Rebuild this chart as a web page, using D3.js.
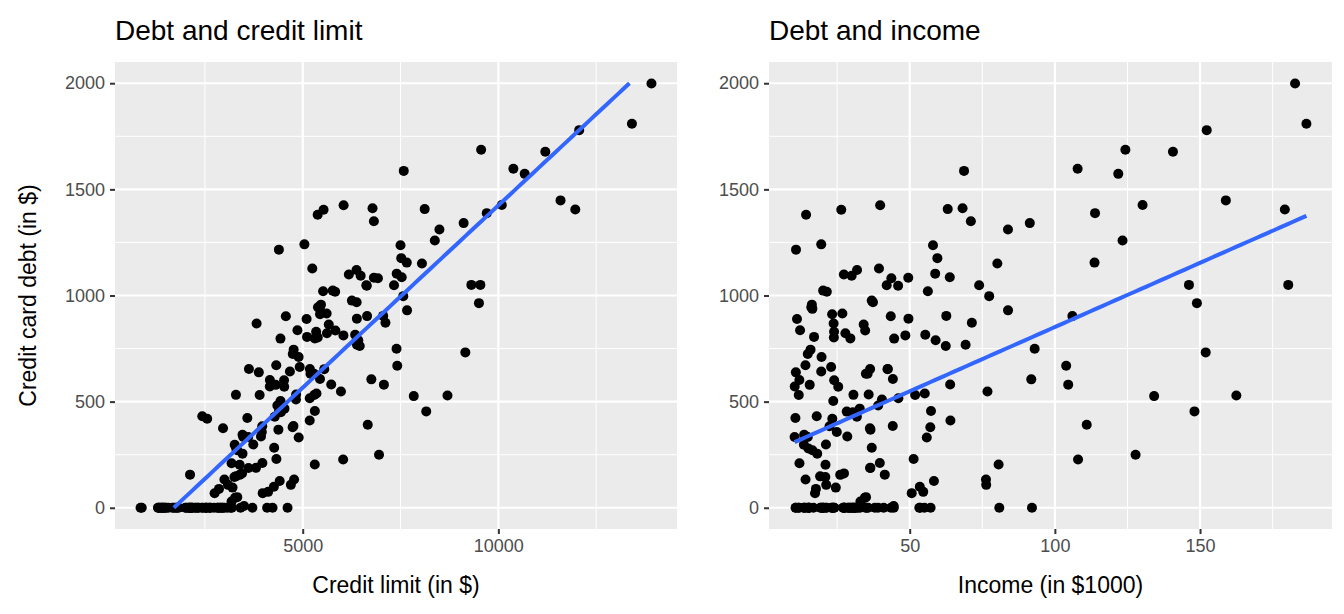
<!DOCTYPE html>
<html><head><meta charset="utf-8">
<script src="https://cdn.jsdelivr.net/npm/d3@7"></script>
<style>body{margin:0;background:#fff}text{font-family:"Liberation Sans",Arial,sans-serif}</style>
</head><body><svg id="c" width="1344" height="614"></svg>
<script>
const income=[14.891,106.025,104.593,148.924,55.882,80.18,20.996,71.408,15.125,71.061,63.095,15.045,80.616,43.682,19.144,20.089,53.598,36.496,49.57,42.079,17.7,37.348,20.103,64.027,10.742,14.09,42.471,32.793,186.634,26.813,34.142,28.941,134.181,31.367,20.15,23.35,62.413,30.007,11.795,13.647,34.95,113.659,44.158,36.929,31.861,77.38,19.531,44.646,44.522,43.479,36.362,39.705,44.205,16.304,15.333,32.916,57.1,76.273,10.354,51.872,35.51,21.238,30.682,14.132,32.164,12,113.829,11.187,27.847,49.502,24.889,58.781,22.939,23.989,16.103,33.017,30.622,20.936,110.968,15.354,27.369,53.48,23.672,19.225,43.54,152.298,55.367,11.741,15.56,59.53,20.191,48.498,30.733,16.479,38.009,14.084,14.312,26.067,36.295,83.851,21.153,17.976,68.713,146.183,15.846,12.031,16.819,39.11,107.986,13.561,34.537,28.575,46.007,69.251,16.482,40.442,35.177,91.362,27.039,23.012,27.241,148.08,62.602,11.808,29.564,27.578,26.427,57.202,123.299,18.145,23.793,10.726,23.283,21.455,34.664,44.473,54.663,36.355,21.374,107.841,39.831,91.876,103.893,19.636,17.392,19.529,17.055,23.857,15.184,13.444,63.931,35.864,41.419,92.112,55.056,19.537,31.811,56.256,42.357,53.319,12.238,31.353,63.809,13.676,76.782,25.383,35.691,29.403,27.47,27.33,34.772,36.934,76.348,14.887,121.834,30.132,24.05,22.379,28.316,58.026,10.635,46.102,58.929,80.861,158.889,30.42,36.472,23.365,83.869,58.351,55.187,124.29,28.508,130.209,30.406,23.883,93.039,50.699,27.349,10.403,23.949,73.914,21.038,68.206,57.337,10.793,23.45,10.842,51.345,151.947,24.543,29.567,39.145,39.422,34.909,41.025,182.728,180.379,179.2,140.672,162.5,127.8];
const limit=[3606,6645,7075,9504,4897,8047,3388,7114,3300,6819,8117,1311,5308,6922,3291,2525,3714,4378,6384,6626,2860,6378,2631,5179,1757,4323,3625,4534,13414,5611,5666,2733,7838,1829,2646,2558,6457,6481,3899,3461,3327,7659,4763,6257,6375,7569,5043,4431,2252,4569,5183,3969,5441,5466,1499,1786,4742,4779,3480,5294,5198,3089,1671,2998,2937,4160,9704,5099,5619,6819,3954,7402,4923,4523,5390,3180,3293,3254,6662,2101,3449,4263,4433,1433,2906,12066,6340,2271,4307,7518,5767,6040,2832,5435,3075,855,5382,3388,2963,8494,3736,2433,7582,9540,4768,3182,1337,3189,6033,3261,3271,2959,6637,6386,3326,4828,2117,9113,2161,1410,1402,8157,7056,1300,2529,2531,5533,3411,8376,3461,3821,1568,5443,5829,5835,3500,4116,3613,2073,10384,6045,6754,7416,4896,2748,4673,5110,1501,2420,886,5728,4831,2120,4612,3155,1362,4284,5521,5550,3000,4865,1705,7530,2330,5977,4527,2880,2327,2820,6179,2021,4270,4697,4745,10673,2168,2607,3965,4391,7499,3584,5180,6420,4090,11589,4442,3806,2179,7667,4411,5352,9560,3933,10088,2120,5384,7398,3977,2000,4159,5343,7333,1448,6784,5310,3878,2450,4391,4327,9156,3206,5309,4351,5245,5289,4229,13913,9310,11966,11200,8700,6950];
const balance=[333,903,580,964,331,1151,203,872,279,1350,1407,0,204,1081,148,0,0,368,891,1048,89,968,0,411,0,671,654,467,1809,915,863,0,526,0,0,419,762,1093,531,344,50,1155,385,976,1120,997,1241,797,0,902,654,211,607,957,0,0,379,133,333,531,631,108,0,133,0,602,1388,889,822,1084,357,1103,663,601,945,29,532,145,391,0,162,99,503,0,0,1779,815,0,579,1176,1023,812,0,937,0,0,1380,155,375,1311,298,431,1587,1050,745,210,0,0,227,297,47,0,1046,768,271,510,0,1341,0,0,0,454,904,0,0,0,1404,0,1259,255,868,0,912,1018,835,8,75,187,0,1597,1425,605,669,710,68,642,805,0,0,0,581,534,156,0,0,0,429,1020,653,0,836,0,1086,0,548,570,0,0,0,1099,0,283,108,724,1573,0,0,384,453,1237,423,516,789,0,1448,450,188,0,930,126,538,1687,336,1426,0,802,749,69,0,571,829,1048,0,1411,456,638,0,1216,230,732,95,798,482,1127,631,0,1999,1050,1405,1677,529,250];
const fitLimit=[-292.79,0.17173];
const fitIncome=[246.51,6.0484];
const yTicks=[0,500,1000,1500,2000];
const xTicksL=[5000,10000];
const xTicksR=[50,100,150];

const svg=d3.select("#c");
const y=d3.scaleLinear().domain([-100,2100]).range([529,62]);
function panel(x0,x1,xs,title,xlab,ticks,minor,fit,ylabel){
  const dom=d3.extent(xs),pad=(dom[1]-dom[0])*0.05;
  const x=d3.scaleLinear().domain([dom[0]-pad,dom[1]+pad]).range([x0,x1]);
  const g=svg.append("g");
  g.append("rect").attr("x",x0).attr("y",62).attr("width",x1-x0).attr("height",467).attr("fill","#EBEBEB");
  const yMinor=[250,750,1250,1750];
  g.selectAll(".ym").data(yMinor).join("line").attr("x1",x0).attr("x2",x1).attr("y1",d=>y(d)).attr("y2",d=>y(d)).attr("stroke","#fff").attr("stroke-width",1);
  g.selectAll(".xm").data(minor).join("line").attr("y1",62).attr("y2",529).attr("x1",d=>x(d)).attr("x2",d=>x(d)).attr("stroke","#fff").attr("stroke-width",1);
  g.selectAll(".yM").data(yTicks).join("line").attr("x1",x0).attr("x2",x1).attr("y1",d=>y(d)).attr("y2",d=>y(d)).attr("stroke","#fff").attr("stroke-width",2.2);
  g.selectAll(".xM").data(ticks).join("line").attr("y1",62).attr("y2",529).attr("x1",d=>x(d)).attr("x2",d=>x(d)).attr("stroke","#fff").attr("stroke-width",2.2);
  const ya=g.append("g").attr("transform",`translate(${x0},0)`).call(d3.axisLeft(y).tickValues(yTicks).tickFormat(d3.format("d")).tickSize(5).tickPadding(5));
  const xa=g.append("g").attr("transform",`translate(0,529)`).call(d3.axisBottom(x).tickValues(ticks).tickFormat(d3.format("d")).tickSize(5).tickPadding(5));
  [ya,xa].forEach(a=>{a.select(".domain").remove();a.selectAll("line").attr("stroke","#333").attr("stroke-width",2);a.selectAll("text").attr("fill","#4d4d4d").style("font-size","18px");});
  g.selectAll("circle").data(xs.map((v,i)=>[v,balance[i]])).join("circle").attr("cx",d=>x(d[0])).attr("cy",d=>y(d[1])).attr("r",5).attr("fill","#000");
  const lo=Math.max(dom[0],(0-fit[0])/fit[1]),hi=Math.min(dom[1],(2000-fit[0])/fit[1]);
  const pts=d3.range(0,81).map(i=>lo+(hi-lo)*i/80);
  g.append("path").attr("d",d3.line().x(d=>x(d)).y(d=>y(fit[0]+fit[1]*d))(pts)).attr("fill","none").attr("stroke","#3366FF").attr("stroke-width",4);
  g.append("text").attr("x",x0).attr("y",40).text(title).style("font-size","28px").attr("fill","#000");
  g.append("text").attr("x",(x0+x1)/2).attr("y",593).attr("text-anchor","middle").text(xlab).style("font-size","23px");
  if(ylabel) g.append("text").attr("transform",`translate(36,${(62+529)/2}) rotate(-90)`).attr("text-anchor","middle").text(ylabel).style("font-size","23px");
}
panel(115,677,limit,"Debt and credit limit","Credit limit (in $)",xTicksL,[2500,7500,12500],fitLimit,"Credit card debt (in $)");
panel(769,1332,income,"Debt and income","Income (in $1000)",xTicksR,[25,75,125,175],fitIncome,null);
</script></body></html>
